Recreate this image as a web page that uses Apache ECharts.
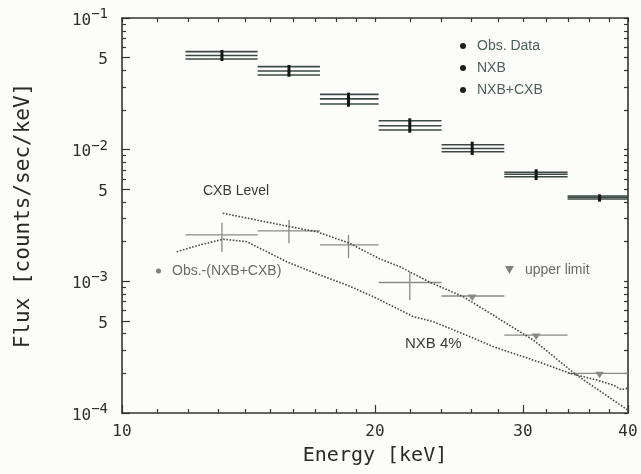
<!DOCTYPE html>
<html>
<head>
<meta charset="utf-8">
<script src="https://cdn.jsdelivr.net/npm/echarts@6/dist/echarts.min.js"></script>
<style>
  html, body { margin: 0; padding: 0; background: #fcfcfb; }
  #chart { width: 641px; height: 474px; }
</style>
</head>
<body>
<div id="chart"></div>
<script>
// Energy bins [keV]
const energyLo  = [11.9, 14.5, 17.2, 20.2, 24.0, 28.5, 33.9];
const energyHi  = [14.5, 17.2, 20.2, 24.0, 28.5, 33.9, 40.0];
const energyMid = [13.15, 15.8, 18.6, 22.0, 26.1, 31.1, 37.0];

// Observed spectrum and background models [counts/sec/keV]
const obsFlux   = [0.0555, 0.0427, 0.0263, 0.0166, 0.0109, 0.00673, 0.00445];
const obsErrLo  = [0.0471, 0.0358, 0.0212, 0.01345, 0.00911, 0.00588, 0.00403];
const obsErrHi  = [0.0571, 0.0440, 0.0271, 0.0173, 0.01149, 0.00710, 0.00458];
const nxbCxbFlux = [0.0519, 0.0396, 0.0243, 0.0152, 0.0102, 0.00650, 0.00435];
const nxbFlux   = [0.0488, 0.0369, 0.0222, 0.0141, 0.00965, 0.00623, 0.00422];

// Residual Obs.-(NXB+CXB), detected in the first four bins
const residFlux  = [0.00225, 0.00242, 0.00189, 0.00098];
const residErrLo = [0.00168, 0.00195, 0.00150, 0.00072];
const residErrHi = [0.00279, 0.00292, 0.00225, 0.00118];

// Upper limits for the last three bins
const upperLimit = [0.000774, 0.000391, 0.000200];

// CXB level curve
const cxbEnergy = [13.18, 14.2, 15.84, 17.05, 18.64, 20.27, 21.42, 23.25, 25.47, 30.86, 34.75, 40.0];
const cxbFlux   = [0.00329, 0.00299, 0.00260, 0.00238, 0.00195, 0.00148, 0.00129, 0.000983, 0.000765, 0.000358, 0.000194, 0.000105];

// 4% of NXB curve
const nxb4Energy = [11.62, 12.38, 13.2, 14.07, 14.84, 15.7, 17.05, 18.51, 19.91, 22.22, 23.46, 25.94, 27.66, 30.02, 32.02, 34.13, 36.72, 38.42, 39.3, 40.0];
const nxb4Flux   = [0.00168, 0.00189, 0.00209, 0.00200, 0.00169, 0.00141, 0.00114, 0.000938, 0.000765, 0.000539, 0.000494, 0.000380, 0.000319, 0.000268, 0.000232, 0.000200, 0.000178, 0.000163, 0.000150, 0.000155];

// Axis ticks
const xMajorTicks = [10, 20, 30, 40];
const xMinorTicks = [11, 12, 13, 14, 15, 16, 17, 18, 19, 22, 24, 26, 28, 32, 34, 36, 38];
const yMajorTicks = [1e-4, 5e-4, 1e-3, 5e-3, 1e-2, 5e-2, 1e-1];
const yMinorMantissa = [2, 3, 4, 6, 7, 8, 9];
const yDecades = [1e-4, 1e-3, 1e-2];

const yMinorTicks = [];
yDecades.forEach(d => yMinorMantissa.forEach(m => yMinorTicks.push(+(m * d).toPrecision(3))));

const frameColor = '#333';
const monoFont = 'DejaVu Sans Mono';
const sansFont = 'Liberation Sans';

function yTickLabel(v) {
  const exp = Math.floor(Math.log10(v) + 1e-9);
  const mant = Math.round(v / Math.pow(10, exp));
  if (mant === 1) return '{b|10}{s|\u2212' + (-exp) + '}';
  return '{b|' + mant + '}';
}

function xAxisDef(position, ticks, len, showLine, showLabels) {
  return {
    type: 'log', logBase: 10, min: 10, max: 40, position: position,
    axisLine: { show: showLine, lineStyle: { color: frameColor, width: 1.6 } },
    axisTick: { show: true, inside: true, length: len, customValues: ticks,
                lineStyle: { color: frameColor, width: 1.2 } },
    axisLabel: showLabels ? {
      customValues: xMajorTicks, margin: 11, color: '#2e2e2e',
      fontFamily: monoFont, fontSize: 16, formatter: v => String(Math.round(v))
    } : { show: false },
    splitLine: { show: false }, minorTick: { show: false }
  };
}

function yAxisDef(position, ticks, len, showLine, showLabels) {
  return {
    type: 'log', logBase: 10, min: 1e-4, max: 1e-1, position: position,
    axisLine: { show: showLine, lineStyle: { color: frameColor, width: 1.6 } },
    axisTick: { show: true, inside: true, length: len, customValues: ticks,
                lineStyle: { color: frameColor, width: 1.2 } },
    axisLabel: showLabels ? {
      customValues: yMajorTicks, margin: 14, formatter: yTickLabel,
      rich: {
        b: { fontFamily: monoFont, fontSize: 16, color: '#2e2e2e', lineHeight: 21, verticalAlign: 'bottom' },
        s: { fontFamily: monoFont, fontSize: 14, color: '#2e2e2e', lineHeight: 21, verticalAlign: 'top' }
      }
    } : { show: false },
    splitLine: { show: false }, minorTick: { show: false }
  };
}

const xAxes = [
  xAxisDef('bottom', xMajorTicks, 8, true, true),
  xAxisDef('bottom', xMinorTicks, 4, false, false),
  xAxisDef('top', xMajorTicks.concat(xMinorTicks), 4, true, false)
];
Object.assign(xAxes[0], {
  name: 'Energy [keV]', nameLocation: 'middle', nameGap: 33,
  nameTextStyle: { fontFamily: monoFont, fontSize: 20, color: '#2a2a2a' }
});

const yAxes = [
  yAxisDef('left', yMajorTicks, 8, true, true),
  yAxisDef('left', yMinorTicks, 4, false, false),
  yAxisDef('right', yMajorTicks.concat(yMinorTicks), 4, true, false)
];
Object.assign(yAxes[0], {
  name: 'Flux [counts/sec/keV]', nameLocation: 'middle', nameGap: 88, nameRotate: 90,
  nameTextStyle: { fontFamily: monoFont, fontSize: 21, color: '#2a2a2a' }
});

// Horizontal bin bar, optionally with a vertical error bar at the bin centre
function binRenderer(color, width, errColor, errWidth) {
  return function (params, api) {
    const p1 = api.coord([api.value(0), api.value(2)]);
    const p2 = api.coord([api.value(1), api.value(2)]);
    const children = [{
      type: 'line', shape: { x1: p1[0], y1: p1[1], x2: p2[0], y2: p2[1] },
      style: { stroke: color, lineWidth: width }
    }];
    if (errColor) {
      const lo = api.coord([api.value(5), api.value(3)]);
      const hi = api.coord([api.value(5), api.value(4)]);
      children.push({
        type: 'line', shape: { x1: lo[0], y1: lo[1], x2: hi[0], y2: hi[1] },
        style: { stroke: errColor, lineWidth: errWidth }
      });
    }
    return { type: 'group', children: children };
  };
}

// Horizontal bin bar with a downward triangle marking the limit
function upperLimitRenderer(params, api) {
  const p1 = api.coord([api.value(0), api.value(2)]);
  const p2 = api.coord([api.value(1), api.value(2)]);
  const c = api.coord([api.value(3), api.value(2)]);
  return {
    type: 'group', children: [
      { type: 'line', shape: { x1: p1[0], y1: p1[1], x2: p2[0], y2: p2[1] },
        style: { stroke: '#8a8a8a', lineWidth: 1.3 } },
      { type: 'polygon', shape: { points: [[c[0] - 4.5, c[1] - 1.5], [c[0] + 4.5, c[1] - 1.5], [c[0], c[1] + 5]] },
        style: { fill: '#8a8a8a' } }
    ]
  };
}

const obsData = energyLo.map((lo, i) => [lo, energyHi[i], obsFlux[i], obsErrLo[i], obsErrHi[i], energyMid[i]]);
const nxbData = energyLo.map((lo, i) => [lo, energyHi[i], nxbFlux[i]]);
const nxbCxbData = energyLo.map((lo, i) => [lo, energyHi[i], nxbCxbFlux[i]]);
const residData = residFlux.map((v, i) => [energyLo[i], energyHi[i], v, residErrLo[i], residErrHi[i], energyMid[i]]);
const ulOffset = residFlux.length;
const ulData = upperLimit.map((v, i) => [energyLo[ulOffset + i], energyHi[ulOffset + i], v, energyMid[ulOffset + i]]);

const binColor = '#3b4845';
const dotted = { type: [1.6, 1.6], width: 1.6, color: '#4a4a4a' };

const legendText = { fontFamily: sansFont, fontSize: 14, color: '#4f5f5b', lineHeight: 14, padding: [0, 0, 0, 6] };
const grayText = { fontFamily: sansFont, fontSize: 14, color: '#6a6a6a', lineHeight: 14, padding: [0, 0, 0, 6] };

const option = {
  backgroundColor: '#fcfcfb',
  animation: false,
  grid: { left: 122, right: 13, top: 18, bottom: 61, containLabel: false },
  xAxis: xAxes,
  yAxis: yAxes,
  legend: [
    {
      orient: 'vertical', left: 455, top: 34, itemWidth: 6, itemHeight: 6, itemGap: 8,
      selectedMode: false, textStyle: legendText,
      data: [
        { name: 'Obs. Data', icon: 'circle', itemStyle: { color: '#1e1e1e' } },
        { name: 'NXB', icon: 'circle', itemStyle: { color: '#1e1e1e' } },
        { name: 'NXB+CXB', icon: 'circle', itemStyle: { color: '#1e1e1e' } }
      ]
    },
    {
      orient: 'horizontal', left: 151, top: 259, itemWidth: 5, itemHeight: 5,
      selectedMode: false, textStyle: grayText,
      data: [{ name: 'Obs.-(NXB+CXB)', icon: 'circle', itemStyle: { color: '#808080' } }]
    },
    {
      orient: 'horizontal', left: 500, top: 258, itemWidth: 9, itemHeight: 8,
      selectedMode: false, textStyle: grayText,
      data: [{ name: 'upper limit', icon: 'path://M0,0L10,0L5,9Z', itemStyle: { color: '#808080' } }]
    }
  ],
  graphic: [
    { type: 'text', left: 203, top: 184, silent: true,
      style: { text: 'CXB Level', fontFamily: sansFont, fontSize: 14, fill: '#3a3a3a' } },
    { type: 'text', left: 405, top: 336, silent: true,
      style: { text: 'NXB 4%', fontFamily: sansFont, fontSize: 15, fill: '#3a3a3a' } }
  ],
  series: [
    { name: 'NXB', type: 'custom', renderItem: binRenderer(binColor, 1.6), data: nxbData,
      encode: { x: [0, 1], y: 2 }, itemStyle: { color: binColor }, silent: true },
    { name: 'NXB+CXB', type: 'custom', renderItem: binRenderer(binColor, 1.6), data: nxbCxbData,
      encode: { x: [0, 1], y: 2 }, itemStyle: { color: binColor }, silent: true },
    { name: 'Obs. Data', type: 'custom', renderItem: binRenderer(binColor, 1.6, '#151515', 3), data: obsData,
      encode: { x: [0, 1, 5], y: [2, 3, 4] }, itemStyle: { color: binColor }, silent: true },
    { name: 'Obs.-(NXB+CXB)', type: 'custom', renderItem: binRenderer('#8a8a8a', 1.3, '#8a8a8a', 1.3), data: residData,
      encode: { x: [0, 1, 5], y: [2, 3, 4] }, itemStyle: { color: '#8a8a8a' }, silent: true },
    { name: 'upper limit', type: 'custom', renderItem: upperLimitRenderer, data: ulData,
      encode: { x: [0, 1, 3], y: 2 }, itemStyle: { color: '#8a8a8a' }, silent: true },
    { name: 'CXB Level', type: 'line', data: cxbEnergy.map((e, i) => [e, cxbFlux[i]]),
      showSymbol: false, lineStyle: dotted, silent: true },
    { name: 'NXB 4%', type: 'line', data: nxb4Energy.map((e, i) => [e, nxb4Flux[i]]),
      showSymbol: false, lineStyle: dotted, silent: true }
  ]
};

echarts.init(document.getElementById('chart'), null, { renderer: 'canvas' }).setOption(option);
</script>
</body>
</html>
